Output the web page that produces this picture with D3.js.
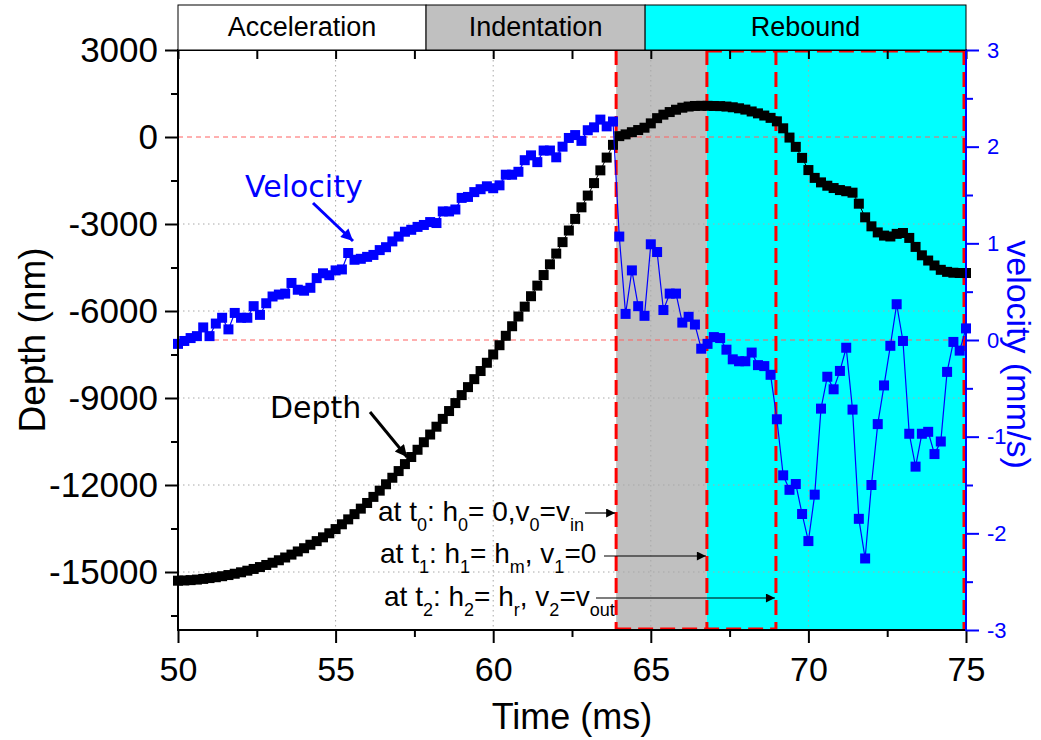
<!DOCTYPE html>
<html><head><meta charset="utf-8">
<script src="https://cdn.jsdelivr.net/npm/d3@7"></script>
<style>body{margin:0;background:#fff}svg{display:block}</style>
</head><body>
<svg id="chart" width="1041" height="740"></svg>
<script>
// ---------- data ----------
const times = [
50.0,50.2,50.4,50.6,50.8,51.0,51.2,51.4,51.6,51.8,52.0,52.2,52.4,52.6,52.8,53.0,53.2,53.4,53.6,53.8,
54.0,54.2,54.4,54.6,54.8,55.0,55.2,55.4,55.6,55.8,56.0,56.2,56.4,56.6,56.8,57.0,57.2,57.4,57.6,57.8,
58.0,58.2,58.4,58.6,58.8,59.0,59.2,59.4,59.6,59.8,60.0,60.2,60.4,60.6,60.8,61.0,61.2,61.4,61.6,61.8,
62.0,62.2,62.4,62.6,62.8,63.0,63.2,63.4,63.6,63.8,64.0,64.2,64.4,64.6,64.8,65.0,65.2,65.4,65.6,65.8,
66.0,66.2,66.4,66.6,66.8,67.0,67.2,67.4,67.6,67.8,68.0,68.2,68.4,68.6,68.8,69.0,69.2,69.4,69.6,69.8,
70.0,70.2,70.4,70.6,70.8,71.0,71.2,71.4,71.6,71.8,72.0,72.2,72.4,72.6,72.8,73.0,73.2,73.4,73.6,73.8,
74.0,74.2,74.4,74.6,74.8,75.0];
const depth = [
-15300,-15292,-15280,-15262,-15238,-15210,-15180,-15145,-15105,-15060,-15010,-14955,-14895,-14830,-14758,-14680,-14595,-14500,-14400,-14292,
-14180,-14060,-13935,-13805,-13665,-13520,-13355,-13185,-13005,-12815,-12620,-12410,-12195,-11975,-11750,-11520,-11280,-11035,-10785,-10525,
-10260,-9990,-9720,-9450,-9175,-8900,-8625,-8350,-8070,-7785,-7500,-7180,-6855,-6525,-6190,-5850,-5490,-5125,-4760,-4390,
-4020,-3625,-3225,-2825,-2425,-2020,-1590,-1150,-710,-270,30,90,165,240,320,470,650,770,860,940,
1010,1050,1070,1075,1075,1070,1065,1050,1025,990,945,880,815,740,660,540,300,-20,-340,-720,
-1140,-1410,-1565,-1680,-1760,-1830,-1870,-1920,-2300,-2770,-3080,-3290,-3400,-3430,-3340,-3310,-3480,-3790,-4080,-4260,
-4430,-4580,-4650,-4680,-4690,-4690];
const velocity = [
-0.04,-0.01,0.02,0.04,0.13,0.04,0.17,0.23,0.11,0.28,0.23,0.23,0.35,0.26,0.38,0.45,0.47,0.48,0.59,0.52,
0.51,0.54,0.64,0.69,0.67,0.72,0.73,0.90,0.83,0.84,0.86,0.88,0.93,0.96,1.02,1.07,1.12,1.14,1.17,1.19,
1.22,1.21,1.33,1.33,1.35,1.47,1.48,1.53,1.56,1.59,1.57,1.60,1.71,1.71,1.74,1.86,1.91,1.84,1.96,1.96,
1.89,2.00,2.09,2.12,2.06,2.17,2.20,2.28,2.21,2.26,1.07,0.27,0.72,0.35,0.25,0.99,0.91,0.31,0.48,0.48,
0.18,0.24,0.16,-0.09,-0.04,0.03,0.02,-0.10,-0.20,-0.22,-0.22,-0.13,-0.26,-0.27,-0.36,-0.82,-1.40,-1.55,-1.49,-1.80,
-2.08,-1.60,-0.71,-0.38,-0.51,-0.32,-0.08,-0.72,-1.85,-2.26,-1.50,-0.87,-0.47,-0.06,0.37,-0.01,-0.97,-1.31,-0.97,-0.95,
-1.18,-1.05,-0.33,-0.02,-0.11,0.12];

const phaseTimes = [63.9, 66.78, 68.97];          // t0, t1, t2
const bannerLabels = ["Acceleration", "Indentation", "Rebound"];
const bannerEdges = [50, 57.87, 64.82, 75];
const depthTicks = [-15000, -12000, -9000, -6000, -3000, 0, 3000];
const depthMinor = [-16500, -13500, -10500, -7500, -4500, -1500, 1500];
const velTicks = [-3, -2, -1, 0, 1, 2, 3];
const velMinor = [-2.5, -1.5, -0.5, 0.5, 1.5, 2.5];
const timeTicks = [50, 55, 60, 65, 70, 75];
const timeMinor = [52.5, 57.5, 62.5, 67.5, 72.5];

(function () {
// ---------- layout ----------
const X0 = 178, X1 = 966, Y0 = 50, Y1 = 630;
const FONT = "'Liberation Sans', Arial, sans-serif";
const svg = d3.select("#chart");
const x = d3.scaleLinear().domain([50, 75]).range([X0, X1]);
const yD = d3.scaleLinear().domain([-17000, 3000]).range([Y1, Y0]);
const yV = d3.scaleLinear().domain([-3, 3]).range([Y1, Y0]);

const defs = svg.append("defs");
function marker(id, color, w, h) {
  defs.append("marker").attr("id", id).attr("viewBox", "0 0 10 10")
    .attr("refX", 10).attr("refY", 5).attr("markerWidth", w).attr("markerHeight", h)
    .attr("markerUnits", "userSpaceOnUse").attr("orient", "auto")
    .append("path").attr("d", "M0,0 L10,5 L0,10 Z").attr("fill", color);
}
marker("arrBlue", "#0000ff", 14, 12);
marker("arrBlack", "#000", 14, 12);
marker("arrThin", "#000", 16, 9);

// phase backgrounds
const [t0, t1, t2] = phaseTimes;
svg.append("rect").attr("x", x(t0)).attr("y", Y0).attr("width", x(t1) - x(t0)).attr("height", Y1 - Y0).attr("fill", "#c0c0c0");
svg.append("rect").attr("x", x(t1)).attr("y", Y0).attr("width", X1 - x(t1)).attr("height", Y1 - Y0).attr("fill", "#00ffff");

// gridlines
const grid = svg.append("g").attr("stroke", "#a8a8a8").attr("stroke-width", 1).attr("stroke-dasharray", "1.5,3.5");
timeTicks.slice(1, -1).forEach(t => grid.append("line").attr("x1", x(t)).attr("x2", x(t)).attr("y1", Y0).attr("y2", Y1));
depthTicks.filter(d => d !== 0 && d !== 3000).forEach(d => grid.append("line").attr("x1", X0).attr("x2", X1).attr("y1", yD(d)).attr("y2", yD(d)));

// red reference lines (depth 0, velocity 0)
const ref = svg.append("g").attr("stroke", "#ff6060").attr("stroke-width", 1).attr("stroke-dasharray", "5,4");
ref.append("line").attr("x1", X0).attr("x2", X1).attr("y1", yD(0)).attr("y2", yD(0));
ref.append("line").attr("x1", X0).attr("x2", X1).attr("y1", yV(0)).attr("y2", yV(0));

// red dashed phase frame
const fr = svg.append("g").attr("stroke", "#ff0000").attr("stroke-width", 3).attr("stroke-dasharray", "15,7").attr("fill", "none");
phaseTimes.forEach(t => fr.append("line").attr("x1", x(t)).attr("x2", x(t)).attr("y1", Y0).attr("y2", Y1));
fr.append("line").attr("x1", x(t0)).attr("x2", x(t2)).attr("y1", Y1 - 1).attr("y2", Y1 - 1);
fr.append("line").attr("x1", x(t1)).attr("x2", X1).attr("y1", Y0 + 1).attr("y2", Y0 + 1);
fr.append("line").attr("x1", X1 - 2).attr("x2", X1 - 2).attr("y1", Y0).attr("y2", Y1);

// series
const depthPts = times.map((t, i) => [t, depth[i]]);
const velPts = times.map((t, i) => [t, velocity[i]]);
const S = 10;
svg.append("path").datum(depthPts).attr("fill", "none").attr("stroke", "#000").attr("stroke-width", 1)
  .attr("d", d3.line().x(d => x(d[0])).y(d => yD(d[1])));
svg.append("g").selectAll("rect").data(depthPts).join("rect")
  .attr("x", d => x(d[0]) - S / 2).attr("y", d => yD(d[1]) - S / 2).attr("width", S).attr("height", S).attr("fill", "#000");
svg.append("path").datum(velPts).attr("fill", "none").attr("stroke", "#0000ff").attr("stroke-width", 1.2)
  .attr("d", d3.line().x(d => x(d[0])).y(d => yV(d[1])));
svg.append("g").selectAll("rect").data(velPts).join("rect")
  .attr("x", d => x(d[0]) - S / 2).attr("y", d => yV(d[1]) - S / 2).attr("width", S).attr("height", S).attr("fill", "#0000ff");

// axes
function styleAxis(g, color, size) {
  g.select(".domain").remove();
  g.selectAll("line").attr("stroke", color).attr("stroke-width", 2);
  g.selectAll("text").attr("fill", color).attr("font-family", FONT).attr("font-size", size);
}
const axL = svg.append("g").attr("transform", `translate(${X0},0)`)
  .call(d3.axisLeft(yD).tickValues(depthTicks).tickSize(13).tickPadding(7).tickFormat(d => String(d)));
styleAxis(axL, "#000", 35);
const axLm = svg.append("g").attr("transform", `translate(${X0},0)`)
  .call(d3.axisLeft(yD).tickValues(depthMinor).tickSize(7).tickFormat(""));
styleAxis(axLm, "#000", 0);

const axB = svg.append("g").attr("transform", `translate(0,${Y1})`)
  .call(d3.axisBottom(x).tickValues(timeTicks).tickSize(13).tickPadding(14).tickFormat(d => String(d)));
styleAxis(axB, "#000", 34);
const axBm = svg.append("g").attr("transform", `translate(0,${Y1})`)
  .call(d3.axisBottom(x).tickValues(timeMinor).tickSize(7).tickFormat(""));
styleAxis(axBm, "#000", 0);

const axT = svg.append("g").attr("transform", `translate(0,${Y0})`)
  .call(d3.axisBottom(x).tickValues(timeTicks.concat(timeMinor)).tickSize(9).tickFormat(""));
styleAxis(axT, "#000", 0);

const axR = svg.append("g").attr("transform", `translate(${X1},0)`)
  .call(d3.axisRight(yV).tickValues(velTicks).tickSize(13).tickPadding(8).tickFormat(d => String(d)));
styleAxis(axR, "#0000ff", 22);
const axRm = svg.append("g").attr("transform", `translate(${X1},0)`)
  .call(d3.axisRight(yV).tickValues(velMinor).tickSize(7).tickFormat(""));
styleAxis(axRm, "#0000ff", 0);

// axis lines
svg.append("line").attr("x1", X0).attr("x2", X0).attr("y1", Y0).attr("y2", Y1 + 1).attr("stroke", "#000").attr("stroke-width", 2);
svg.append("line").attr("x1", X0 - 1).attr("x2", X1).attr("y1", Y1).attr("y2", Y1).attr("stroke", "#000").attr("stroke-width", 2);
svg.append("line").attr("x1", X0 - 1).attr("x2", X1).attr("y1", Y0).attr("y2", Y0).attr("stroke", "#000").attr("stroke-width", 2);
svg.append("line").attr("x1", X1).attr("x2", X1).attr("y1", Y0 - 1).attr("y2", Y1 + 1).attr("stroke", "#0000ff").attr("stroke-width", 2);

// axis titles
svg.append("text").attr("x", x(62.5)).attr("y", 729).attr("text-anchor", "middle")
  .attr("font-family", FONT).attr("font-size", 36).text("Time (ms)");
svg.append("text").attr("transform", `translate(45,${yD(-7000)}) rotate(-90)`).attr("text-anchor", "middle")
  .attr("font-family", FONT).attr("font-size", 37).text("Depth (nm)");
svg.append("text").attr("transform", `translate(1007,${yV(-0.15)}) rotate(90)`).attr("text-anchor", "middle")
  .attr("font-family", FONT).attr("font-size", 34).attr("fill", "#0000ff").text("velocity (mm/s)");

// series labels with arrows
svg.append("text").attr("x", 245).attr("y", 197).attr("font-family", "'DejaVu Sans', sans-serif")
  .attr("font-size", 30).attr("fill", "#0000ff").text("Velocity");
svg.append("line").attr("x1", 313).attr("y1", 203).attr("x2", 353).attr("y2", 241)
  .attr("stroke", "#0000ff").attr("stroke-width", 3).attr("marker-end", "url(#arrBlue)");
svg.append("text").attr("x", 270).attr("y", 418).attr("font-family", "'DejaVu Sans', sans-serif")
  .attr("font-size", 30).attr("fill", "#000").text("Depth");
svg.append("line").attr("x1", 370).attr("y1", 412).attr("x2", 407).attr("y2", 457)
  .attr("stroke", "#000").attr("stroke-width", 3).attr("marker-end", "url(#arrBlack)");

// annotations
const notes = [
  {x: 378, y: 521, parts: [["at t"], ["0", 1], [": h"], ["0", 1], ["= 0,v"], ["0", 1], ["=v"], ["in", 1]], ax0: 585, ay: 513, t: t0},
  {x: 380, y: 563, parts: [["at t"], ["1", 1], [": h"], ["1", 1], ["= h"], ["m", 1], [", v"], ["1", 1], ["=0"]], ax0: 604, ay: 556, t: t1},
  {x: 384, y: 606, parts: [["at t"], ["2", 1], [": h"], ["2", 1], ["= h"], ["r", 1], [", v"], ["2", 1], ["=v"], ["out", 1]], ax0: 596, ay: 598, t: t2}
];
notes.forEach(n => {
  const tx = svg.append("text").attr("x", n.x).attr("y", n.y).attr("font-family", FONT).attr("font-size", 28).attr("fill", "#000");
  let prevSub = false;
  n.parts.forEach(p => {
    const sub = !!p[1];
    const ts = tx.append("tspan").text(p[0]);
    if (sub) ts.attr("font-size", 18).attr("dy", prevSub ? 0 : 10);
    else if (prevSub) ts.attr("dy", -10);
    prevSub = sub;
  });
  svg.append("line").attr("x1", n.ax0).attr("x2", x(n.t) - 1).attr("y1", n.ay).attr("y2", n.ay)
    .attr("stroke", "#000").attr("stroke-width", 1.2).attr("marker-end", "url(#arrThin)");
});

// banner
const bColors = ["#ffffff", "#c0c0c0", "#00ffff"];
bannerLabels.forEach((lab, i) => {
  const xa = x(bannerEdges[i]), xb = x(bannerEdges[i + 1]);
  svg.append("rect").attr("x", xa).attr("y", 5).attr("width", xb - xa).attr("height", Y0 - 5)
    .attr("fill", bColors[i]).attr("stroke", "#000").attr("stroke-width", 1);
  svg.append("text").attr("x", (xa + xb) / 2).attr("y", 36).attr("text-anchor", "middle")
    .attr("font-family", FONT).attr("font-size", 27).text(lab);
});
})();
</script>
</body></html>
